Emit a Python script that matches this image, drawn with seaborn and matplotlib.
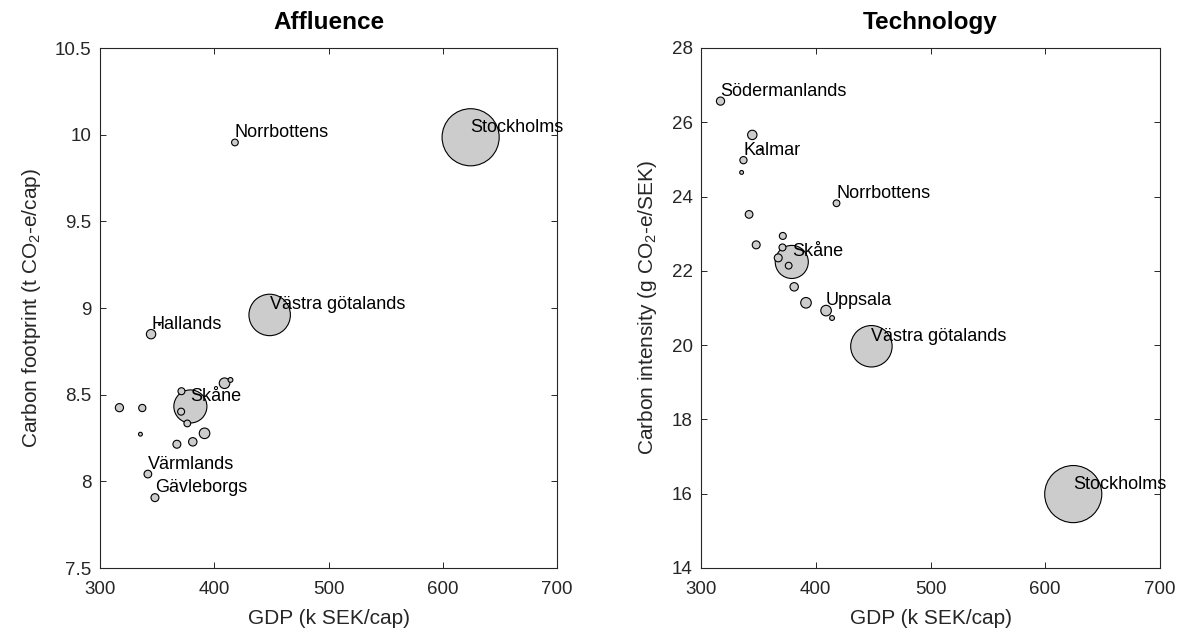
import numpy as np
import pandas as pd
import matplotlib
matplotlib.use("Agg")
import matplotlib.pyplot as plt
import seaborn as sns

# ---- data ----
gdp = [624.4, 448.5, 379.1, 418.1, 344.7, 317.0, 337.0, 335.4, 341.9, 348.1,
       371.3, 371.0, 367.3, 376.4, 381.2, 391.5, 409.0, 414.2, 352.0]
footprint = [9.985, 8.96, 8.432, 9.955, 8.849, 8.425, 8.423, 8.272, 8.042, 7.906,
             8.52, 8.402, 8.214, 8.334, 8.228, 8.277, 8.566, 8.585, 8.905]
intensity = [15.99, 19.97, 22.24, 23.82, 25.66, 26.57, 24.98, 24.65, 23.52, 22.70,
             22.94, 22.63, 22.35, 22.14, 21.57, 21.14, 20.93, 20.73, 25.27]
population_k = [2377, 1725, 1377, 280, 390, 340, 300, 160, 320, 330,
                290, 290, 330, 280, 350, 440, 440, 200, 70]
labels_affluence = ["Stockholms", "Västra götalands", "Skåne", "Norrbottens", "Hallands",
                    "", "", "", "Värmlands", "Gävleborgs",
                    "", "", "", "", "", "", "", "", ""]
labels_technology = ["Stockholms", "Västra götalands", "Skåne", "Norrbottens", "",
                     "Södermanlands", "Kalmar", "", "", "",
                     "", "", "", "", "", "", "Uppsala", "", ""]

x_ticks = [300, 400, 500, 600, 700]
y_ticks_aff = [7.5, 8, 8.5, 9, 9.5, 10, 10.5]
y_tick_labels_aff = ["7.5", "8", "8.5", "9", "9.5", "10", "10.5"]
y_ticks_tech = [14, 16, 18, 20, 22, 24, 26, 28]

df = pd.DataFrame({"gdp": gdp, "footprint": footprint, "intensity": intensity,
                   "pop": population_k, "lab_a": labels_affluence,
                   "lab_t": labels_technology})
# bubble diameter proportional to population -> area ~ pop^2
df["area"] = (df["pop"] * 0.0173) ** 2
df = df.sort_values("pop", ascending=False).reset_index(drop=True)

sns.set_theme(style="white")
plt.rcParams["font.family"] = ["Liberation Sans", "DejaVu Sans"]
plt.rcParams["mathtext.fontset"] = "custom"
plt.rcParams["mathtext.rm"] = "Liberation Sans"
plt.rcParams["mathtext.it"] = "Liberation Sans:italic"

dark = "#262626"
fig = plt.figure(figsize=(11.82, 6.31), dpi=100)
ax1 = fig.add_axes([100 / 1182, 63 / 631, 457 / 1182, 520 / 631])
ax2 = fig.add_axes([701 / 1182, 63 / 631, 459 / 1182, 520 / 631])


def panel(ax, ycol, labcol, title, ylabel, yticks, yticklabels, ylim):
    sns.scatterplot(data=df, x="gdp", y=ycol, ax=ax, s=df["area"].values,
                    color="#cccccc", edgecolor="black", linewidth=0.8,
                    legend=False, zorder=3)
    for _, r in df.iterrows():
        if r[labcol]:
            ax.annotate(r[labcol], (r["gdp"], r[ycol]), xytext=(0, 7.2),
                        textcoords="offset points", ha="left", va="center",
                        fontsize=13, color="black", zorder=5)
    ax.set_xlim(300, 700)
    ax.set_ylim(*ylim)
    ax.set_xticks(x_ticks)
    ax.set_xticklabels([str(t) for t in x_ticks])
    ax.set_yticks(yticks)
    ax.set_yticklabels(yticklabels)
    ax.set_title(title, fontsize=17.5, fontweight="bold", color="black", pad=14)
    ax.set_xlabel("GDP (k SEK/cap)", fontsize=15, color=dark, labelpad=8)
    ax.set_ylabel(ylabel, fontsize=15, color=dark, labelpad=9)
    ax.tick_params(axis="both", which="both", direction="in", length=4.5,
                   width=0.7, colors=dark, labelsize=13.5, top=True, right=True,
                   bottom=True, left=True)
    ax.tick_params(axis="x", pad=9)
    ax.tick_params(axis="y", pad=6)
    for sp in ax.spines.values():
        sp.set_visible(True)
        sp.set_color(dark)
        sp.set_linewidth(0.8)
    ax.set_facecolor("white")


panel(ax1, "footprint", "lab_a", "Affluence",
      "Carbon footprint (t CO$_2$-e/cap)", y_ticks_aff, y_tick_labels_aff, (7.5, 10.5))
panel(ax2, "intensity", "lab_t", "Technology",
      "Carbon intensity (g CO$_2$-e/SEK)", y_ticks_tech,
      [str(t) for t in y_ticks_tech], (14, 28))

fig.savefig("out.png", dpi=100, facecolor="white")
